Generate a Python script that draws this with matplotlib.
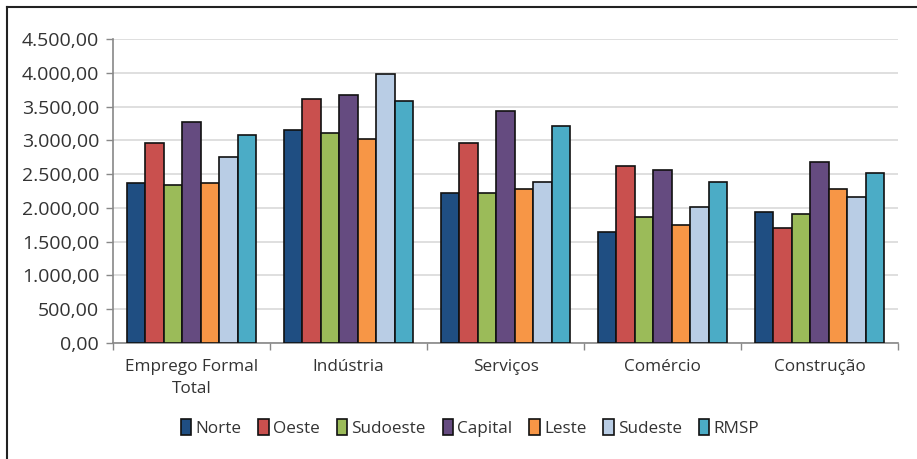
import matplotlib
matplotlib.use("Agg")
import matplotlib.pyplot as plt
import numpy as np
from matplotlib.ticker import FuncFormatter, FixedLocator
from matplotlib.patches import Patch
from matplotlib.lines import Line2D

plt.rcParams['font.family'] = ['Open Sans', 'DejaVu Sans']

categories = ["Emprego Formal\nTotal", "Indústria", "Serviços", "Comércio", "Construção"]
regions = ["Norte", "Oeste", "Sudoeste", "Capital", "Leste", "Sudeste", "RMSP"]
colors = ["#1F4E82", "#C9504E", "#9BBB59", "#654B80", "#F79646", "#B9CDE5", "#4BACC6"]

norte    = [2365, 3156, 2216, 1647, 1939]
oeste    = [2958, 3616, 2958, 2622, 1697]
sudoeste = [2335, 3107, 2216, 1870, 1905]
capital  = [3274, 3670, 3442, 2562, 2676]
leste    = [2365, 3018, 2276, 1751, 2276]
sudeste  = [2760, 3987, 2389, 2018, 2166]
rmsp     = [3077, 3591, 3215, 2389, 2513]
series = [norte, oeste, sudoeste, capital, leste, sudeste, rmsp]

yticks = [0, 500, 1000, 1500, 2000, 2500, 3000, 3500, 4000, 4500]

fig = plt.figure(figsize=(9.17, 4.59), dpi=100)
ax = fig.add_axes([113/917, 1 - 342.7/459, (898 - 113)/917, (342.7 - 39.3)/459])

n = len(regions)
bw = 0.118
x = np.arange(len(categories))
for i, (name, vals, c) in enumerate(zip(regions, series, colors)):
    ax.bar(x + (i - (n - 1) / 2) * bw, vals, width=bw, color=c,
           edgecolor="#111111", linewidth=1.2, label=name, zorder=3)

ax.set_xlim(-0.5, len(categories) - 0.5)
ax.set_ylim(0, 4500)
ax.set_yticks(yticks)

def br_fmt(v, pos):
    s = f"{v:,.2f}"
    return s.replace(",", "X").replace(".", ",").replace("X", ".")

ax.yaxis.set_major_formatter(FuncFormatter(br_fmt))
ax.grid(axis="y", color="#D9D9D9", linewidth=1.2, zorder=0)
ax.set_axisbelow(True)

ax.set_xticks(x)
ax.set_xticklabels(categories, fontsize=12.3, color="#333333", linespacing=1.45)
ax.tick_params(axis="x", length=0, pad=12)
ax.xaxis.set_minor_locator(FixedLocator(np.arange(-0.5, len(categories), 1.0)))
ax.tick_params(axis="x", which="minor", length=5, color="#888888", width=1)
ax.tick_params(axis="y", length=5, color="#888888", width=1, labelsize=14,
               labelcolor="#333333", pad=5)

for s in ["top", "right"]:
    ax.spines[s].set_visible(False)
for s in ["left", "bottom"]:
    ax.spines[s].set_color("#888888")
    ax.spines[s].set_linewidth(1.2)

handles = [Patch(facecolor=c, edgecolor="#111111", linewidth=1.2, label=r)
           for r, c in zip(regions, colors)]
leg = fig.legend(handles=handles, loc="center", bbox_to_anchor=(470/917, 1 - 428/459),
                 ncol=7, frameon=False, fontsize=12.3, handlelength=0.6, handleheight=1.1,
                 handletextpad=0.25, columnspacing=1.0)
for t in leg.get_texts():
    t.set_color("#333333")

# outer frame
fig.add_artist(Line2D([7/917, 7/917], [0, 1 - 7/459], color="#222222", linewidth=1.5,
                      transform=fig.transFigure))
fig.add_artist(Line2D([7/917, 1], [1 - 7/459, 1 - 7/459], color="#222222", linewidth=1.5,
                      transform=fig.transFigure))

fig.savefig("out.png", dpi=100)
